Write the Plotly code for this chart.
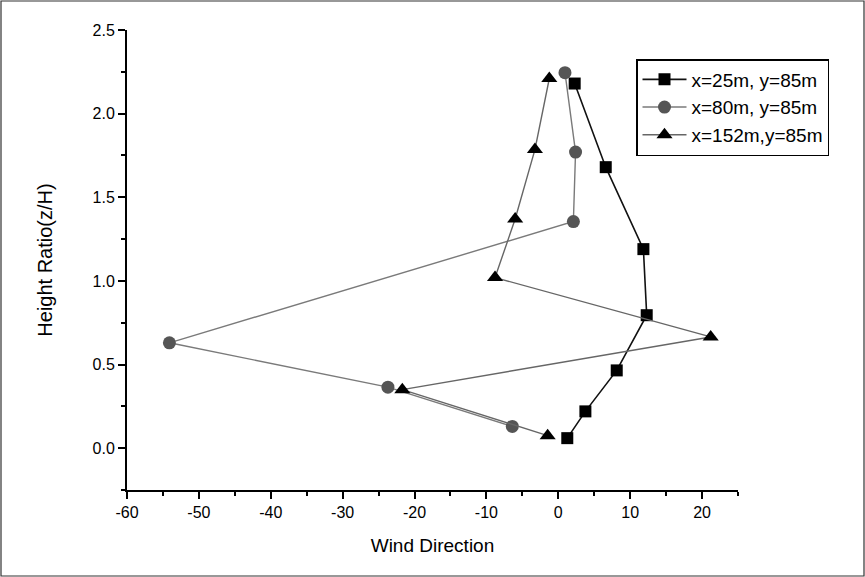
import plotly.graph_objects as go

# Data
s1_name = "x=25m, y=85m"
s1_x = [1.25, 3.77, 8.13, 12.3, 11.84, 6.6, 2.28]
s1_y = [0.06, 0.22, 0.465, 0.795, 1.19, 1.68, 2.18]

s2_name = "x=80m, y=85m"
s2_x = [-6.4, -23.7, -54.1, 2.1, 2.4, 0.93]
s2_y = [0.13, 0.365, 0.63, 1.355, 1.77, 2.245]

s3_name = "x=152m,y=85m"
s3_x = [-1.48, -21.7, 21.2, -8.8, -6.0, -3.25, -1.25]
s3_y = [0.075, 0.35, 0.665, 1.02, 1.37, 1.785, 2.21]

x_ticks = [-60, -50, -40, -30, -20, -10, 0, 10, 20]
y_ticks = [0.0, 0.5, 1.0, 1.5, 2.0, 2.5]

FONT = "Liberation Sans, Arial, sans-serif"

fig = go.Figure()
fig.add_trace(go.Scatter(x=s1_x, y=s1_y, name=s1_name, mode="lines+markers",
                         line=dict(color="#111111", width=1.6),
                         marker=dict(symbol="square", size=12, color="#000000")))
fig.add_trace(go.Scatter(x=s2_x, y=s2_y, name=s2_name, mode="lines+markers",
                         line=dict(color="#7a7a7a", width=1.4),
                         marker=dict(symbol="circle", size=13, color="#555555")))
fig.add_trace(go.Scatter(x=s3_x, y=s3_y, name=s3_name, mode="lines+markers",
                         line=dict(color="#666666", width=1.4),
                         marker=dict(symbol="triangle-up", size=14, color="#000000")))

L, R, T, B = 127, 127, 30, 87
W, H = 865, 577
pw, ph = W - L - R, H - T - B

fig.update_layout(
    width=W, height=H,
    margin=dict(l=L, r=R, t=T, b=B),
    paper_bgcolor="white", plot_bgcolor="white",
    font=dict(family=FONT, size=16, color="#000000"),
    showlegend=True,
    legend=dict(x=(636 - L) / pw, y=1 - (59 - T) / ph, xanchor="left", yanchor="top",
                bordercolor="#000000", borderwidth=1.5, bgcolor="white",
                font=dict(family=FONT, size=19, color="#000000"),
                tracegroupgap=0, itemwidth=44),
    xaxis=dict(range=[-60, 25], tickvals=x_ticks, ticktext=[str(v) for v in x_ticks],
               showgrid=False, zeroline=False, showline=True, linecolor="#000000", linewidth=2,
               ticks="outside", ticklen=7, tickwidth=2, tickcolor="#000000",
               minor=dict(dtick=5, tick0=-60, ticks="outside", ticklen=4, tickwidth=2, tickcolor="#000000"),
               tickfont=dict(family=FONT, size=16),
               title=dict(text="Wind Direction", font=dict(family=FONT, size=19), standoff=18)),
    yaxis=dict(range=[-0.25, 2.5], tickvals=y_ticks, ticktext=["%.1f" % v for v in y_ticks],
               showgrid=False, zeroline=False, showline=True, linecolor="#000000", linewidth=2,
               ticks="outside", ticklen=7, tickwidth=2, tickcolor="#000000",
               minor=dict(dtick=0.25, tick0=0, ticks="outside", ticklen=4, tickwidth=2, tickcolor="#000000"),
               tickfont=dict(family=FONT, size=16),
               title=dict(text="Height Ratio(z/H)", font=dict(family=FONT, size=20), standoff=35)),
    shapes=[dict(type="rect", xref="paper", yref="paper",
                 x0=(1 - L) / pw, x1=(W - 1 - L) / pw,
                 y0=-(B - 1) / ph, y1=1 + (T - 1) / ph,
                 line=dict(color="#333333", width=1.2), fillcolor="rgba(0,0,0,0)", layer="below")],
)

fig.write_html("out.html", config={"displayModeBar": False},
               post_script="document.body.style.margin='0';")
